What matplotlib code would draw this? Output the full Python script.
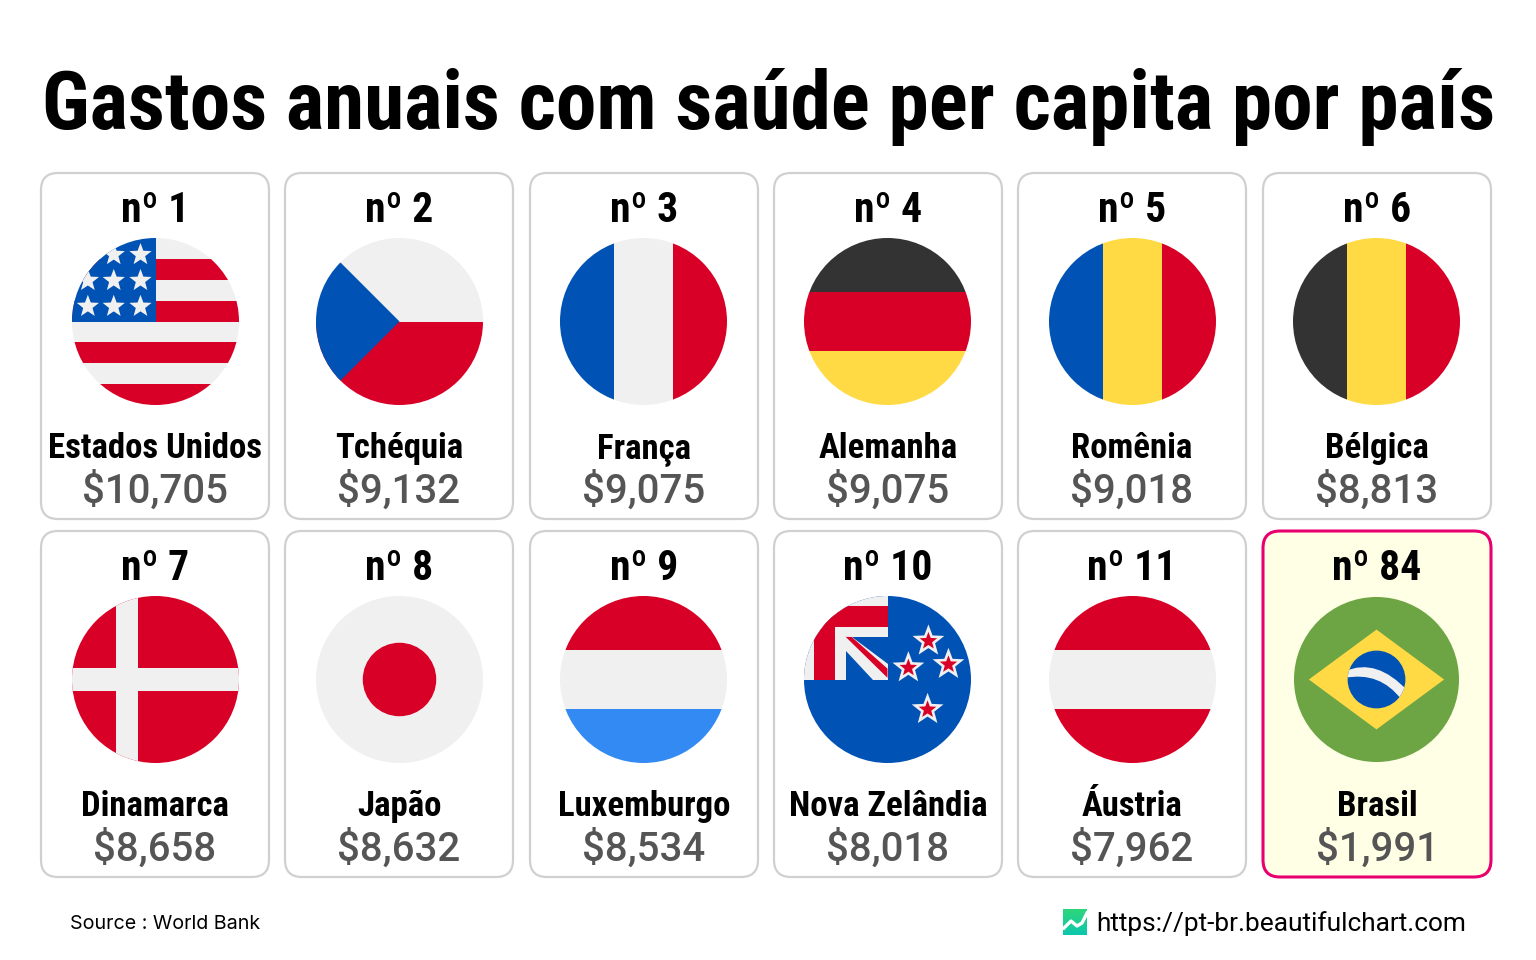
import numpy as np
import matplotlib
matplotlib.use("Agg")
import matplotlib.pyplot as plt
from matplotlib.patches import Circle, FancyBboxPatch, PathPatch, Polygon, Rectangle
from matplotlib.path import Path
from matplotlib import font_manager

names = {f.name for f in font_manager.fontManager.ttflist}
NARROW = [n for n in ["Liberation Sans Narrow", "Roboto Condensed", "Open Sans Condensed", "Liberation Sans"] if n in names]

# data ****************************************************************
title = "Gastos anuais com saúde per capita por país"
ranks = [1, 2, 3, 4, 5, 6, 7, 8, 9, 10, 11, 84]
countries = ["Estados Unidos", "Tchéquia", "França", "Alemanha", "Romênia", "Bélgica",
             "Dinamarca", "Japão", "Luxemburgo", "Nova Zelândia", "Áustria", "Brasil"]
spending = [10705, 9132, 9075, 9075, 9018, 8813, 8658, 8632, 8534, 8018, 7962, 1991]
flags = ["us", "cz", "fr", "de", "ro", "be", "dk", "jp", "lu", "nz", "at", "br"]
source = "Source : World Bank"
site = "https://pt-br.beautifulchart.com"

RED = "#D80027"
BLUE = "#0052B4"
WHITE = "#F0F0F0"
YELLOW = "#FFDA44"
BLACK = "#333333"
GREEN = "#6DA544"
SKY = "#338AF3"

card_x = [41, 285, 530, 774, 1018, 1263]
flag_x = [155.5, 399.5, 643.5, 887.5, 1132.5, 1376.5]
card_y = [173, 531]
card_w = 228
card_h = 346
flag_r = 83.5

fig = plt.figure(figsize=(15.36, 9.6), dpi=100)
ax = fig.add_axes([0, 0, 1, 1])
ax.set_xlim(0, 1536)
ax.set_ylim(960, 0)
ax.axis("off")


def clipped(patch, clip):
    ax.add_patch(patch)
    patch.set_clip_path(clip)
    return patch


def rect(cx, cy, r, clip, x0, y0, x1, y1, color, z=3):
    clipped(Rectangle((cx + x0 * r, cy + y0 * r), (x1 - x0) * r, (y1 - y0) * r, fc=color, ec="none", zorder=z), clip)


def poly(cx, cy, r, clip, pts, color, z=3):
    pts = [(cx + a * r, cy + b * r) for a, b in pts]
    clipped(Polygon(pts, closed=True, fc=color, ec="none", zorder=z), clip)


def star(cx, cy, r, clip, sx, sy, size, color, z=5):
    ang = np.arange(10) * np.pi / 5
    rad = np.where(np.arange(10) % 2 == 0, size, size * 0.42)
    pts = list(zip(sx + rad * np.sin(ang), sy - rad * np.cos(ang)))
    poly(cx, cy, r, clip, pts, color, z)


def h_bands(cx, cy, r, clip, colors, stops):
    for c, y0, y1 in zip(colors, stops[:-1], stops[1:]):
        rect(cx, cy, r, clip, -1.1, y0, 1.1, y1, c)


def v_bands(cx, cy, r, clip, colors, stops):
    for c, x0, x1 in zip(colors, stops[:-1], stops[1:]):
        rect(cx, cy, r, clip, x0, -1.1, x1, 1.1, c)


def draw_flag(code, cx, cy, r):
    clip = Circle((cx, cy), r, transform=ax.transData)
    thirds = [-1.1, -0.35, 0.35, 1.1]
    if code == "us":
        h_bands(cx, cy, r, clip, [WHITE, RED] * 4, [-1.1, -0.75, -0.5, -0.25, 0, 0.25, 0.5, 0.75, 1.1])
        rect(cx, cy, r, clip, -1.1, -1.1, 0, 0, BLUE, 4)
        for sy in [-0.18, -0.49, -0.8]:
            for sx in [-0.18, -0.5, -0.81]:
                star(cx, cy, r, clip, sx, sy, 0.14, WHITE)
    elif code == "cz":
        h_bands(cx, cy, r, clip, [WHITE, RED], [-1.1, 0, 1.1])
        poly(cx, cy, r, clip, [(-0.707, -0.707), (0, 0), (-0.707, 0.707), (-1.1, 0.707), (-1.1, -0.707)], BLUE, 4)
    elif code == "fr":
        v_bands(cx, cy, r, clip, [BLUE, WHITE, RED], thirds)
    elif code == "ro":
        v_bands(cx, cy, r, clip, [BLUE, YELLOW, RED], thirds)
    elif code == "be":
        v_bands(cx, cy, r, clip, [BLACK, YELLOW, RED], thirds)
    elif code == "de":
        h_bands(cx, cy, r, clip, [BLACK, RED, YELLOW], thirds)
    elif code == "lu":
        h_bands(cx, cy, r, clip, [RED, WHITE, SKY], thirds)
    elif code == "at":
        h_bands(cx, cy, r, clip, [RED, WHITE, RED], thirds)
    elif code == "dk":
        rect(cx, cy, r, clip, -1.1, -1.1, 1.1, 1.1, RED)
        rect(cx, cy, r, clip, -0.47, -1.1, -0.21, 1.1, WHITE, 4)
        rect(cx, cy, r, clip, -1.1, -0.14, 1.1, 0.14, WHITE, 4)
    elif code == "jp":
        rect(cx, cy, r, clip, -1.1, -1.1, 1.1, 1.1, WHITE)
        ax.add_patch(Circle((cx, cy), 0.44 * r, fc=RED, ec="none", zorder=4))
    elif code == "nz":
        rect(cx, cy, r, clip, -1.1, -1.1, 1.1, 1.1, BLUE)
        rect(cx, cy, r, clip, -1.1, -1.1, 0, 0, WHITE, 4)
        rect(cx, cy, r, clip, -0.88, -0.88, 0, -0.63, RED, 5)
        rect(cx, cy, r, clip, -0.88, -0.88, -0.63, 0, RED, 5)
        rect(cx, cy, r, clip, -0.63, -0.63, 0, 0, WHITE, 5)
        poly(cx, cy, r, clip, [(-0.43, -0.51), (0, -0.51), (0, -0.18)], BLUE, 6)
        poly(cx, cy, r, clip, [(-0.5, -0.34), (-0.5, 0), (-0.17, 0)], BLUE, 6)
        poly(cx, cy, r, clip, [(-0.5, -0.51), (-0.43, -0.51), (0, -0.13), (0, -0.02)], RED, 6)
        for sx, sy in [(0.49, -0.46), (0.25, -0.14), (0.73, -0.18), (0.48, 0.36)]:
            star(cx, cy, r, clip, sx, sy, 0.2, WHITE, 6)
            star(cx, cy, r, clip, sx, sy, 0.11, RED, 7)
    elif code == "br":
        rect(cx, cy, r, clip, -1.1, -1.1, 1.1, 1.1, GREEN)
        poly(cx, cy, r, clip, [(-0.82, 0), (0, -0.605), (0.82, 0), (0, 0.605)], YELLOW, 4)
        ball = Circle((cx, cy), 0.35 * r, fc=BLUE, ec="none", zorder=5)
        ax.add_patch(ball)
        pts = [(-0.38, -0.1), (0, -0.27), (0.38, 0.14), (0.3, 0.24), (0.04, -0.1), (-0.38, -0.02), (-0.38, -0.1)]
        codes = [Path.MOVETO, Path.CURVE3, Path.CURVE3, Path.LINETO, Path.CURVE3, Path.CURVE3, Path.CLOSEPOLY]
        band = PathPatch(Path([(cx + a * r, cy + b * r) for a, b in pts], codes), fc=WHITE, ec="none", zorder=6)
        ax.add_patch(band)
        band.set_clip_path(ball)


# title ****************************************************************
ax.text(769, 129, title, family=NARROW, weight="bold", fontsize=58.5, color="black", ha="center", va="baseline")

# cards ****************************************************************
for i, (rank, country, value, code) in enumerate(zip(ranks, countries, spending, flags)):
    x = card_x[i % 6]
    y = card_y[i // 6]
    xc = x + card_w / 2
    best = code == "br"
    ax.add_patch(FancyBboxPatch((x + 17, y + 17), card_w - 34, card_h - 34, boxstyle="round,pad=17,rounding_size=17",
                                fc="#FFFFE6" if best else "white", ec="#E8006F" if best else "#D0D0D0",
                                lw=2.2 if best else 1.6, zorder=1))
    ax.text(xc, y + 49, "nº %d" % rank, family=NARROW, weight="bold", fontsize=30, color="black",
            ha="center", va="baseline", zorder=8)
    draw_flag(code, flag_x[i % 6], y + 148.5, 82.5 if best else flag_r)
    ax.text(xc, y + 285, country, family=NARROW, weight="bold", fontsize=25, color="black",
            ha="center", va="baseline", zorder=8)
    ax.text(xc, y + 330, "${:,}".format(value), family="Roboto", weight="medium", fontsize=29, color="#555555",
            ha="center", va="baseline", zorder=8)

# footer ***************************************************************
ax.text(70, 929, source, family="Inter", fontsize=14.2, color="black", ha="left", va="baseline")
ax.text(1096, 931, site, family="Roboto", fontsize=18.9, color="black", ha="left", va="baseline")
grad = np.linspace([0.18, 0.84, 0.48], [0.05, 0.78, 0.68], 32).reshape(32, 1, 3)
ax.imshow(grad, extent=(1063, 1087, 935, 909), aspect="auto", zorder=2, interpolation="bilinear")
ax.plot([1064, 1071, 1077, 1082, 1087], [928, 921, 926, 923, 913], color="white", lw=2.4, zorder=3)
ax.set_xlim(0, 1536)
ax.set_ylim(960, 0)

fig.savefig("out.png", dpi=100, facecolor="white")
